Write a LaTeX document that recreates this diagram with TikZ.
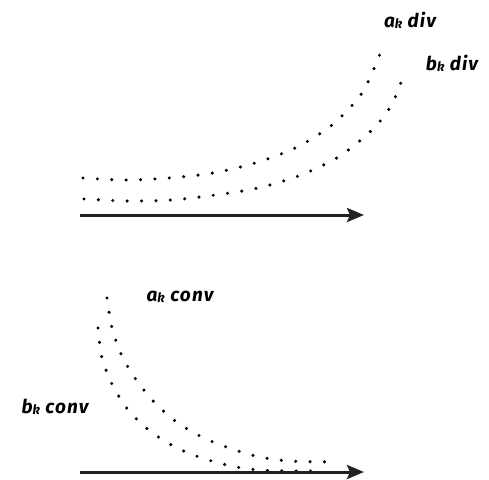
\documentclass[tikz,border=0pt]{standalone}
\usepackage{fontspec}
\setmainfont{Fira Sans}[LetterSpace=6]
\usetikzlibrary{arrows.meta}
\tikzset{
  dots/.style={line width=3.4pt, line cap=round, dash pattern=on 0pt off 14.4pt, black},
  axisarrow/.style={line width=3pt, draw={rgb,255:red,34;green,34;blue,34}, -{Stealth[length=17pt,width=14pt,inset=3pt]}},
  lbl/.style={font=\fontsize{19}{22}\selectfont\bfseries\itshape, inner sep=0pt}
}
\newcommand{\sub}[1]{\raisebox{-1pt}{\fontsize{13}{14}\selectfont #1}}
\begin{document}
\begin{tikzpicture}[x=1pt,y=-1pt]
\useasboundingbox (0,0) rectangle (489,479);
% top panel
\coordinate (t0) at (80,215);
\coordinate (t1) at (364,215);
\draw[dots] plot[smooth] coordinates {(83,178) (126,180) (169,178) (213,173) (255,163) (295,148) (332,125) (362,93) (380,54)};
\draw[dots] plot[smooth] coordinates {(84,199) (127,201) (172,200) (215,195) (258,188) (301,175) (340,156) (374,128) (392,104) (403,77)};
\draw[axisarrow] (t0) -- (t1);
\node[lbl] (adiv) at (410,20) {a\sub{k} div};
\node[lbl] (bdiv) at (452,63) {b\sub{k} div};
% bottom panel
\coordinate (b0) at (80,472);
\coordinate (b1) at (364,472);
\draw[dots] plot[smooth] coordinates {(107,298) (112,328) (122,356) (137,381) (156,404) (178,423) (204,438) (232,449) (260,457) (289,461) (333,462)};
\draw[dots] plot[smooth] coordinates {(98,328) (102,358) (113,386) (129,411) (150,431) (175,447) (202,458) (231,466) (259,470) (289,471) (318,471)};
\draw[axisarrow] (b0) -- (b1);
\node[lbl] (aconv) at (180,297) {a\sub{k} conv};
\node[lbl] (bconv) at (55,407) {b\sub{k} conv};
\end{tikzpicture}
\end{document}
